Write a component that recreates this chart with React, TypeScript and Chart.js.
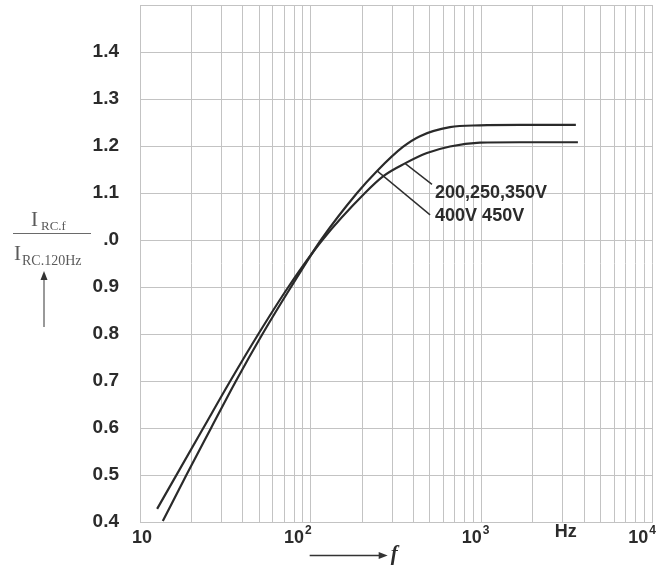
import React, { useEffect, useRef } from "react";
import { Chart, registerables } from "chart.js";

Chart.register(...registerables);

// ---- data ----
// curve for 200, 250, 350 V (lower plateau)
const freq200 = [12.6, 23.5, 33.8, 49.4, 74.0, 117.1, 208, 269, 357, 480, 655, 981, 1683, 3680];
const val200 = [0.428, 0.6, 0.7, 0.8, 0.9, 1.0, 1.1, 1.137, 1.163, 1.185, 1.199, 1.207, 1.208, 1.208];
// curve for 400, 450 V (upper plateau)
const freq400 = [13.6, 18.7, 26.1, 36.5, 52.2, 76.7, 114.9, 187, 245, 347, 437, 655, 981, 1683, 3580];
const val400 = [0.402, 0.5, 0.6, 0.7, 0.8, 0.9, 1.0, 1.1, 1.147, 1.198, 1.221, 1.24, 1.244, 1.245, 1.245];

const seriesLabels = ["200,250,350V", "400V 450V"];
const anchorIndex = [8, 8];

const yMin = 0.4;
const yMax = 1.5;
const yStep = 0.1;
const xMin = 10;
const xMax = 10000;
const xDecades = [10, 100, 1000];
const xMultipliers = [1, 2, 3, 4, 5, 6, 7, 8, 9];
const xLabelValues = [10, 100, 1000, 10000];
const xLabelExp = ["", "2", "3", "4"];
const xUnitLabel = "Hz";
const xUnitAt = 3000;
const xAxisSymbol = "f";

const GRID = "#c3c3c3";
const INK = "#2b2b2b";
const SANS = "'Liberation Sans', Arial, Helvetica, sans-serif";
const SERIF = "'Liberation Serif', 'Times New Roman', serif";

const xTickValues: number[] = [];
xDecades.forEach((d) => xMultipliers.forEach((m) => xTickValues.push(d * m)));
xTickValues.push(xMax);

const overlay = {
  id: "overlay",
  afterDraw(chart: any) {
    const { ctx } = chart;
    const xs = chart.scales.x;
    const ys = chart.scales.y;
    ctx.save();

    // ---- x tick labels ----
    const baseFont = `bold 18px ${SANS}`;
    const supFont = `bold 12px ${SANS}`;
    const shifts = [2, 1, 8, 4];
    const baseY = ys.bottom + 16;
    ctx.fillStyle = INK;
    ctx.textBaseline = "middle";
    ctx.textAlign = "left";
    xLabelValues.forEach((v, i) => {
      const gx = xs.getPixelForValue(v);
      ctx.font = baseFont;
      const w1 = ctx.measureText("10").width;
      ctx.font = supFont;
      const w2 = xLabelExp[i] ? ctx.measureText(xLabelExp[i]).width + 1 : 0;
      const total = w1 + w2;
      const left = i === 0 ? gx + shifts[i] - total / 2 : gx + shifts[i] - total;
      ctx.font = baseFont;
      ctx.fillText("10", left, baseY);
      if (xLabelExp[i]) {
        ctx.font = supFont;
        ctx.fillText(xLabelExp[i], left + w1 + 1, baseY - 7);
      }
    });
    // Hz
    ctx.font = baseFont;
    ctx.textAlign = "center";
    ctx.fillText(xUnitLabel, xs.getPixelForValue(xUnitAt) + 3, baseY - 6);

    // ---- arrow + f ----
    const ay = ys.bottom + 33.5;
    const ax0 = xs.getPixelForValue(100) - 1;
    const ax1 = ax0 + 78;
    ctx.strokeStyle = "#333";
    ctx.lineWidth = 1.3;
    ctx.beginPath();
    ctx.moveTo(ax0, ay);
    ctx.lineTo(ax1 - 6, ay);
    ctx.stroke();
    ctx.fillStyle = "#333";
    ctx.beginPath();
    ctx.moveTo(ax1, ay);
    ctx.lineTo(ax1 - 9, ay - 3.5);
    ctx.lineTo(ax1 - 9, ay + 3.5);
    ctx.closePath();
    ctx.fill();
    ctx.font = `bold italic 21px ${SERIF}`;
    ctx.textAlign = "left";
    ctx.textBaseline = "alphabetic";
    ctx.fillStyle = INK;
    ctx.fillText(xAxisSymbol, ax1 + 3, ay + 4);

    // ---- y axis fraction label ----
    const gray = "#5a5a5a";
    ctx.fillStyle = gray;
    ctx.textAlign = "left";
    ctx.textBaseline = "alphabetic";
    ctx.font = `21px ${SERIF}`;
    ctx.fillText("I", 31, 226);
    ctx.font = `13px ${SERIF}`;
    ctx.fillText("RC.f", 41, 230);
    ctx.strokeStyle = "#6a6a6a";
    ctx.lineWidth = 1;
    ctx.beginPath();
    ctx.moveTo(13, 233.5);
    ctx.lineTo(91, 233.5);
    ctx.stroke();
    ctx.font = `21px ${SERIF}`;
    ctx.fillText("I", 14, 260);
    ctx.font = `14px ${SERIF}`;
    ctx.fillText("RC.120Hz", 22, 265);
    // vertical arrow
    ctx.strokeStyle = "#555";
    ctx.lineWidth = 1.2;
    ctx.beginPath();
    ctx.moveTo(44, 327);
    ctx.lineTo(44, 278);
    ctx.stroke();
    ctx.fillStyle = "#333";
    ctx.beginPath();
    ctx.moveTo(44, 271);
    ctx.lineTo(40.5, 280);
    ctx.lineTo(47.5, 280);
    ctx.closePath();
    ctx.fill();

    // ---- curve annotations ----
    const anchors = [
      { f: freq200[anchorIndex[0]], v: val200[anchorIndex[0]], dx: 27, dy: 21, tdx: 3, tdy: 8.5 },
      { f: freq400[anchorIndex[1]], v: val400[anchorIndex[1]], dx: 53, dy: 44, tdx: 5, tdy: 1.5 },
    ];
    ctx.strokeStyle = "#2e2e2e";
    ctx.lineWidth = 1.4;
    anchors.forEach((a, i) => {
      const px = xs.getPixelForValue(a.f);
      const py = ys.getPixelForValue(a.v);
      ctx.beginPath();
      ctx.moveTo(px, py);
      ctx.lineTo(px + a.dx, py + a.dy);
      ctx.stroke();
      ctx.fillStyle = INK;
      ctx.font = `bold 18px ${SANS}`;
      ctx.textAlign = "left";
      ctx.textBaseline = "middle";
      ctx.fillText(seriesLabels[i], px + a.dx + a.tdx, py + a.dy + a.tdy);
    });

    ctx.restore();
  },
};

export default function App() {
  const ref = useRef<HTMLCanvasElement | null>(null);

  useEffect(() => {
    if (!ref.current) return;
    const lineStyle = {
      borderColor: "#2a2a2a",
      borderWidth: 2.2,
      pointRadius: 0,
      fill: false,
      cubicInterpolationMode: "monotone" as const,
    };
    const chart = new Chart(ref.current, {
      type: "line",
      data: {
        datasets: [
          {
            label: seriesLabels[0],
            data: freq200.map((f, i) => ({ x: f, y: val200[i] })),
            ...lineStyle,
          },
          {
            label: seriesLabels[1],
            data: freq400.map((f, i) => ({ x: f, y: val400[i] })),
            ...lineStyle,
          },
        ],
      },
      options: {
        responsive: false,
        devicePixelRatio: 1,
        animation: false,
        layout: { padding: { left: 0, right: 20, top: 5, bottom: 0 } },
        plugins: { legend: { display: false }, tooltip: { enabled: false } },
        scales: {
          x: {
            type: "logarithmic",
            min: xMin,
            max: xMax,
            afterBuildTicks: (s: any) => {
              s.ticks = xTickValues.map((v) => ({ value: v }));
            },
            afterFit: (s: any) => {
              s.height = 47;
              s.paddingLeft = 0;
              s.paddingRight = 0;
            },
            ticks: { display: false },
            grid: { color: GRID, lineWidth: 1, drawTicks: false },
            border: { display: true, color: GRID, width: 1 },
          },
          y: {
            type: "linear",
            min: yMin,
            max: yMax,
            afterFit: (s: any) => {
              s.width = 140;
              s.paddingTop = 0;
              s.paddingBottom = 0;
            },
            ticks: {
              stepSize: yStep,
              autoSkip: false,
              padding: 21,
              color: INK,
              font: { family: SANS, size: 19, weight: "bold" },
              callback: (v: any) => {
                const r = Math.round(Number(v) * 10) / 10;
                if (r >= yMax) return "";
                if (r === 1) return ".0";
                return r.toFixed(1);
              },
            },
            grid: { color: GRID, lineWidth: 1, drawTicks: false },
            border: { display: true, color: GRID, width: 1 },
          },
        },
      },
      plugins: [overlay],
    } as any);
    return () => chart.destroy();
  }, []);

  return (
    <div style={{ position: "absolute", left: 0, top: 0, width: 672, height: 569, background: "#fff" }}>
      <canvas ref={ref} width={672} height={569} style={{ display: "block", width: 672, height: 569 }} />
    </div>
  );
}
